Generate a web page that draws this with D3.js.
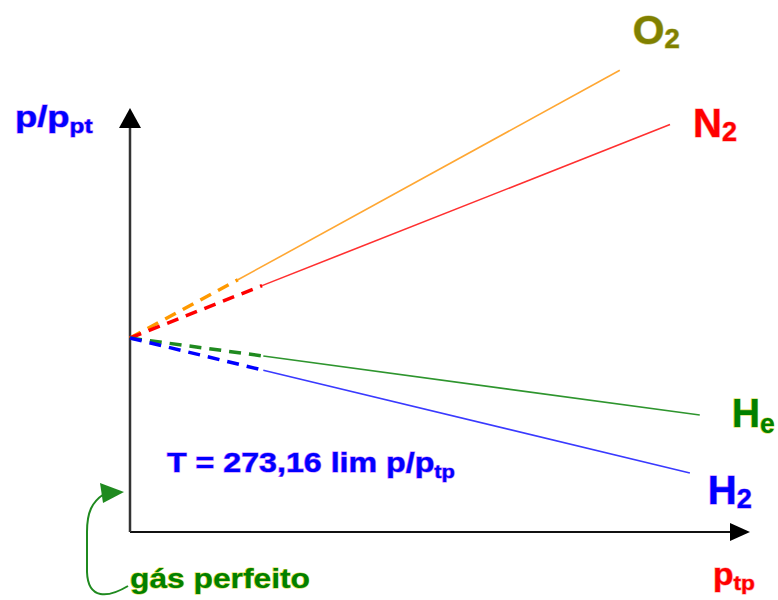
<!DOCTYPE html>
<html><head><meta charset="utf-8">
<script src="https://cdn.jsdelivr.net/npm/d3@7"></script>
<style>
html,body{margin:0;padding:0;background:#fff;}
svg{display:block;font-family:"Liberation Sans",Arial,sans-serif;font-weight:bold;}
</style></head><body>
<svg id="c" width="778" height="600"></svg>
<script>
// ---- data (x = p_tp, y = p/p_tp in units of the common intercept) ----
const gases      = ["O2", "N2", "He", "H2"];
const intercept  = [1.0, 1.0, 1.0, 1.0];
const dashEndX   = [17.4, 21.3, 21.5, 21.5];
const dashEndY   = [1.30, 1.27, 0.907, 0.834];
const lineEndX   = [79.0, 87.1, 91.9, 90.3];
const lineEndY   = [2.38, 2.10, 0.603, 0.304];
const lineColors = ["#FFA733", "#FF3030", "#2E952E", "#3A3AFF"];
const dashColors = ["#FF9900", "#FF0000", "#1F8A1F", "#0000FF"];
const labelMain  = ["O", "N", "H", "H"];
const labelSub   = ["2", "2", "e", "2"];
const labelColors= ["#808000", "#FF0000", "#008000", "#0000FF"];
const haloColors = ["#c8c87a", "#ff9a9a", "#d8d840", "#c070ff"];
const axisMaxX = 100, axisMaxY = 2.186;

const svg = d3.select("#c");
const x = d3.scaleLinear().domain([0, axisMaxX]).range([130, 750]);
const y = d3.scaleLinear().domain([0, 1]).range([532, 338]);

const defs = svg.append("defs");

// axes
svg.append("line").attr("x1", x(0)).attr("y1", y(0)).attr("x2", x(axisMaxX) - 18).attr("y2", y(0))
  .attr("stroke", "#111").attr("stroke-width", 2);
svg.append("path").attr("d", `M${x(axisMaxX)},${y(0)} L${x(axisMaxX)-20},${y(0)-9} L${x(axisMaxX)-20},${y(0)+9}Z`).attr("fill", "#000");
svg.append("line").attr("x1", x(0)).attr("y1", y(0)).attr("x2", x(0)).attr("y2", y(axisMaxY) + 18)
  .attr("stroke", "#333").attr("stroke-width", 2.5);
svg.append("path").attr("d", `M${x(0)},${y(axisMaxY)} L${x(0)-11},${y(axisMaxY)+20} L${x(0)+11},${y(axisMaxY)+20}Z`).attr("fill", "#000");

// series
const series = gases.map((g, i) => ({
  name: g,
  pts: [[0, intercept[i]], [dashEndX[i], dashEndY[i]], [lineEndX[i], lineEndY[i]]],
  i
}));
const line = d3.line().x(d => x(d[0])).y(d => y(d[1]));
series.forEach(s => {
  svg.append("path").attr("d", line(s.pts.slice(1))).attr("fill", "none")
    .attr("stroke", lineColors[s.i]).attr("stroke-width", 1.6);
});
series.forEach(s => {
  svg.append("path").attr("d", line(s.pts.slice(0, 2))).attr("fill", "none")
    .attr("stroke", dashColors[s.i]).attr("stroke-width", 3.5).attr("stroke-dasharray", "12,8");
});

// helper: text with subscript, stretched horizontally to target width
function label(px, py, main, sub, size, subSize, shift, color, halo, targetW) {
  const g = svg.append("g");
  const t = g.append("text").attr("x", 0).attr("y", 0).attr("fill", color)
    .attr("stroke", halo).attr("stroke-width", 1.2).attr("paint-order", "stroke")
    .style("font-size", size + "px");
  t.append("tspan").text(main);
  if (sub) t.append("tspan").attr("dy", shift).style("font-size", subSize + "px").text(sub);
  const w = t.node().getBBox().width;
  const sx = targetW ? targetW / w : 1;
  g.attr("transform", `translate(${px},${py}) scale(${sx},1)`);
  return g;
}

// series labels placed relative to line ends
const labOff = [[13, -26], [23, 12], [32, 12], [18, 31]];
const labW   = [47, 44, 43, 44];
series.forEach(s => {
  const e = s.pts[2];
  label(x(e[0]) + labOff[s.i][0], y(e[1]) + labOff[s.i][1], labelMain[s.i], labelSub[s.i],
        40, 27, s.i === 2 ? 6 : 4, labelColors[s.i], haloColors[s.i], labW[s.i]);
});

// axis titles & annotations
label(15, 127, "p/p", "pt", 30, 20, 6, "#0000FF", "#c070ff", 78);
label(713, 585, "p", "tp", 31, 21, 5, "#FF0000", "#ff9a9a", 42);
label(167, 472, "T = 273,16 lim p/p", "tp", 28, 19, 6, "#0000FF", "#c070ff", 288);
label(130, 588, "gás perfeito", null, 28, 0, 0, "#008000", "#d8d840", 180);

// curved arrow for "gás perfeito"
svg.append("path")
  .attr("d", "M128,586 C108,598 88,600 87,572 L87,532 C87,512 92,502 104,494")
  .attr("fill", "none").attr("stroke", "#1F8A1F").attr("stroke-width", 2);
svg.append("path").attr("d", "M124,492 L100,483 L103,503Z").attr("fill", "#1F8A1F");
</script>
</body></html>
